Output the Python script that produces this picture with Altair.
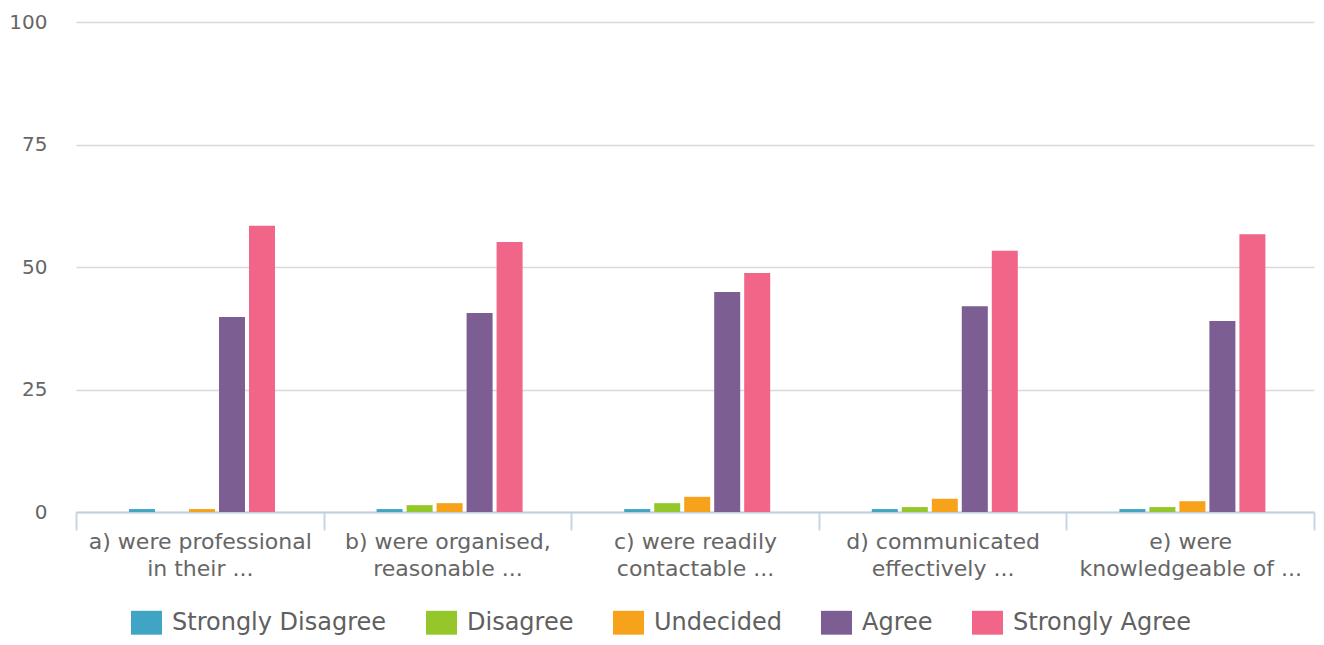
import altair as alt
import pandas as pd

categories = [
    "a) were professional\nin their ...",
    "b) were organised,\nreasonable ...",
    "c) were readily\ncontactable ...",
    "d) communicated\neffectively ...",
    "e) were\nknowledgeable of ...",
]
series = ["Strongly Disagree", "Disagree", "Undecided", "Agree", "Strongly Agree"]
colors = ["#40a4c4", "#95c62a", "#f6a21b", "#7c5e93", "#f16588"]

strongly_disagree = [0.6, 0.6, 0.6, 0.6, 0.6]
disagree = [0.0, 1.4, 1.8, 1.0, 1.0]
undecided = [0.6, 1.8, 3.1, 2.7, 2.2]
agree = [39.8, 40.6, 44.9, 42.0, 39.0]
strongly_agree = [58.4, 55.1, 48.8, 53.3, 56.7]

values = [strongly_disagree, disagree, undecided, agree, strongly_agree]
rows = []
for s, vals in zip(series, values):
    for c, v in zip(categories, vals):
        rows.append({"category": c, "series": s, "value": v})
df = pd.DataFrame(rows)

FONT = "DejaVu Sans"

chart = (
    alt.Chart(df)
    .mark_bar()
    .encode(
        x=alt.X(
            "category:N",
            sort=categories,
            scale=alt.Scale(paddingInner=0, paddingOuter=0),
            axis=alt.Axis(
                title=None,
                labelAngle=0,
                labelExpr="split(datum.label, '\\n')",
                labelFont=FONT,
                labelFontSize=22,
                labelColor="#666666",
                labelLineHeight=27,
                labelPadding=1,
                labelBaseline="top",
                labelLimit=400,
                tickBand="extent",
                tickSize=18,
                tickColor="#c8d5e4",
                tickWidth=2,
                domainColor="#c0cfe0",
                domainWidth=2,
                grid=False,
            ),
        ),
        xOffset=alt.XOffset(
            "series:N",
            sort=series,
            scale=alt.Scale(range=[53, 199], paddingInner=0.133, paddingOuter=0),
        ),
        y=alt.Y(
            "value:Q",
            scale=alt.Scale(domain=[0, 100], nice=False),
            axis=alt.Axis(
                title=None,
                values=[0, 25, 50, 75, 100],
                labelFont=FONT,
                labelFontSize=20,
                labelColor="#666666",
                labelPadding=29,
                ticks=False,
                domain=False,
                gridColor="#d9d9d9",
                gridWidth=1.5,
            ),
        ),
        color=alt.Color(
            "series:N",
            sort=series,
            scale=alt.Scale(domain=series, range=colors),
            legend=alt.Legend(
                title=None,
                orient="none",
                direction="horizontal",
                columns=5,
                legendX=55,
                legendY=585,
                symbolType="M-1,-0.77L1,-0.77L1,0.77L-1,0.77Z",
                symbolSize=961,
                symbolStrokeWidth=0,
                symbolOpacity=1,
                labelFont=FONT,
                labelFontSize=24,
                labelColor="#606060",
                labelOffset=10,
                labelLimit=400,
                columnPadding=39,
                padding=0,
            ),
        ),
    )
    .properties(
        width=1238,
        height=490,
        autosize=alt.AutoSizeParams(type="none"),
        padding={"left": 68, "top": 14, "right": 2, "bottom": 125},
    )
    .configure_view(stroke=None)
)

chart.save("out.html", embed_options={"renderer": "svg", "actions": False})
